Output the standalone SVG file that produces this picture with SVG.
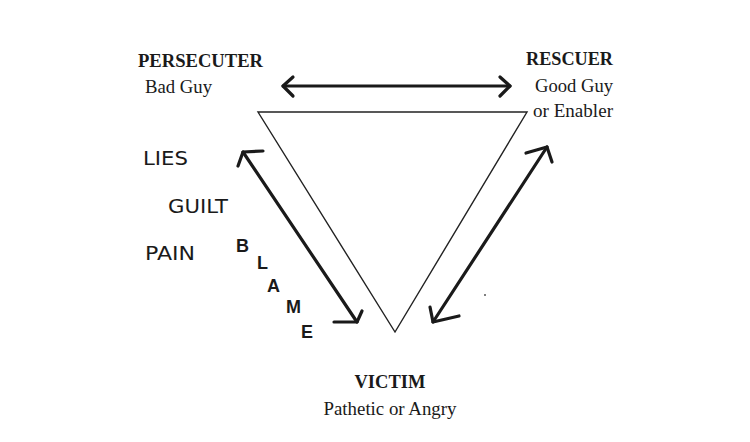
<svg xmlns="http://www.w3.org/2000/svg" width="750" height="442" viewBox="0 0 750 442">
<style>
.role{font-family:"Liberation Serif","Times New Roman",serif;font-weight:bold;font-size:18px;fill:#1a1a1a}
.sub{font-family:"Liberation Serif","Times New Roman",serif;font-size:18px;fill:#1a1a1a}
.word{font-family:"DejaVu Sans","Liberation Sans",sans-serif;font-size:19px;fill:#1a1a1a}
.blame{font-family:"Liberation Sans",Arial,sans-serif;font-weight:bold;font-size:18px;fill:#1a1a1a}
.arrow{fill:none;stroke:#1a1a1a;stroke-width:3.2;stroke-linecap:round;stroke-linejoin:round}
</style>
<rect width="750" height="442" fill="#ffffff"/>
<g id="triangle">
<polygon points="258,112 527,112 395,332" fill="none" stroke="#222" stroke-width="1.4"/>
</g>
<g id="persecuter">
<text class="role" x="138" y="67" textLength="125" lengthAdjust="spacingAndGlyphs">PERSECUTER</text>
<text class="sub" x="145" y="93" textLength="67" lengthAdjust="spacingAndGlyphs">Bad Guy</text>
</g>
<g id="rescuer">
<text class="role" x="613" y="65" text-anchor="end" textLength="87" lengthAdjust="spacingAndGlyphs">RESCUER</text>
<text class="sub" x="613" y="92" text-anchor="end" textLength="78" lengthAdjust="spacingAndGlyphs">Good Guy</text>
<text class="sub" x="613" y="117" text-anchor="end" textLength="80" lengthAdjust="spacingAndGlyphs">or Enabler</text>
</g>
<g id="victim">
<text class="role" x="390" y="388" text-anchor="middle" textLength="71" lengthAdjust="spacingAndGlyphs">VICTIM</text>
<text class="sub" x="390" y="415" text-anchor="middle" textLength="133" lengthAdjust="spacingAndGlyphs">Pathetic or Angry</text>
</g>
<g id="words">
<text class="word" x="143" y="165" textLength="45" lengthAdjust="spacingAndGlyphs">LIES</text>
<text class="word" x="168" y="213" textLength="60" lengthAdjust="spacingAndGlyphs">GUILT</text>
<text class="word" x="145" y="260" textLength="50" lengthAdjust="spacingAndGlyphs">PAIN</text>
</g>
<g id="blame">
<text class="blame" x="236" y="252">B</text>
<text class="blame" x="257" y="269">L</text>
<text class="blame" x="267" y="292">A</text>
<text class="blame" x="286" y="313">M</text>
<text class="blame" x="301" y="338">E</text>
</g>
<g id="connectors">
<path class="arrow" d="M283,86 L510,86"/>
<path class="arrow" d="M293,77 L283,86 L293,96"/>
<path class="arrow" d="M500,77 L510,86 L500,96"/>
<path class="arrow" d="M243,152 L357,322"/>
<path class="arrow" d="M238,166 L243,152 L263,151"/>
<path class="arrow" d="M362,311 L357,322 L334,322"/>
<path class="arrow" d="M547,147 L433,322"/>
<path class="arrow" d="M526,153 L547,147 L552,162"/>
<path class="arrow" d="M430,307 L433,322 L459,316"/>
</g>
<circle cx="485" cy="295" r="1" fill="#555"/>
</svg>
